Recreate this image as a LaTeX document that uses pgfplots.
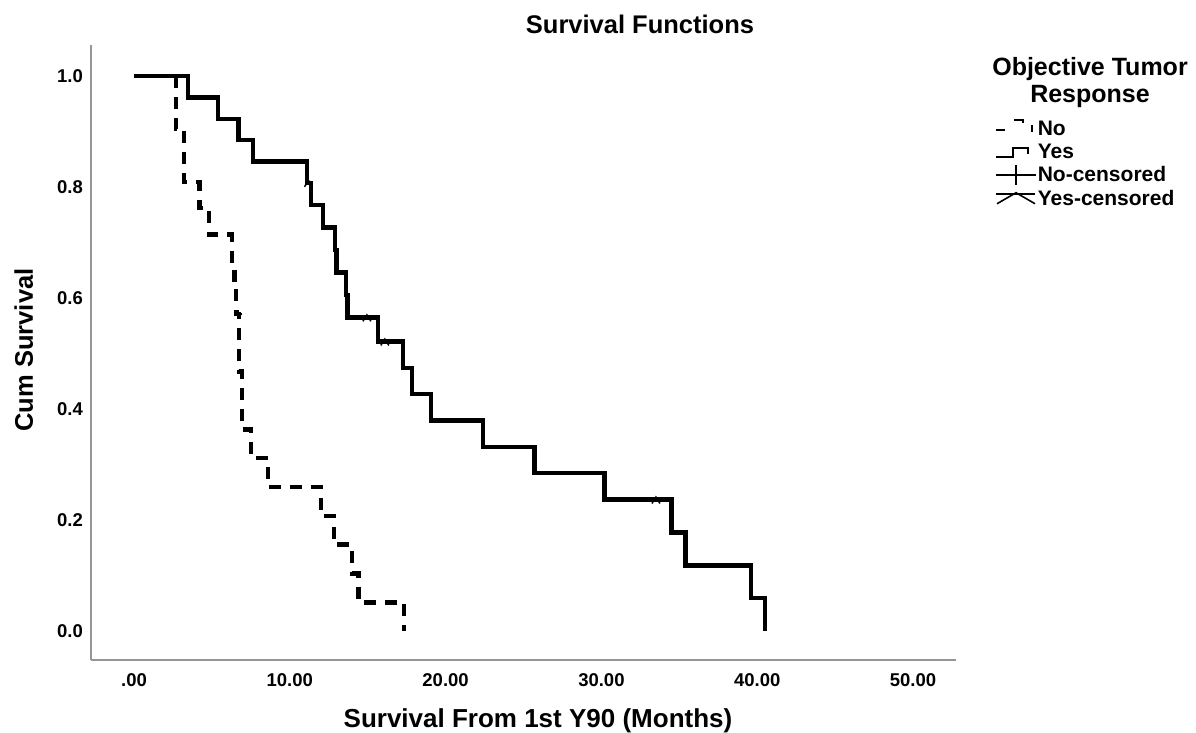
\documentclass[border=0pt]{standalone}
\usepackage{fontspec}
\setmainfont{Liberation Sans}
\usepackage{pgfplots}
\pgfplotsset{compat=1.18}
\pgfdeclareplotmark{ycens}{%
 \pgfpathmoveto{\pgfqpoint{-\pgfplotmarksize}{-\pgfplotmarksize}}%
 \pgfpathlineto{\pgfqpoint{0pt}{0.6\pgfplotmarksize}}%
 \pgfpathlineto{\pgfqpoint{\pgfplotmarksize}{-\pgfplotmarksize}}%
 \pgfusepathqstroke}
\definecolor{axgray}{RGB}{150,150,150}
\begin{document}
\begin{tikzpicture}
\path[use as bounding box] (-91pt,-73pt) rectangle (1105pt,660pt);
\begin{axis}[
 at={(0pt,0pt)}, anchor=south west,
 scale only axis, width=865pt, height=615pt,
 xmin=-2.76, xmax=52.76, ymin=-0.052, ymax=1.056,
 axis x line*=bottom, axis y line*=left,
 axis line style={-, draw=axgray, line width=1.3pt},
 tick style={draw=none},
 xtick={0,10,20,30,40,50},
 xticklabels={.00,10.00,20.00,30.00,40.00,50.00},
 ytick={0,0.2,0.4,0.6,0.8,1.0},
 yticklabels={0.0,0.2,0.4,0.6,0.8,1.0},
 /pgf/number format/assume math mode=true,
 ticklabel style={font=\fontsize{18.5}{22}\selectfont\bfseries, inner sep=0pt},
 xticklabel style={anchor=north, yshift=-13pt},
 yticklabel style={anchor=east, xshift=-8pt},
 legend style={at={(1.0451,0.883)}, anchor=north west, draw=none, fill=none,
   inner sep=0pt, outer sep=0pt, row sep=1pt,
   font=\fontsize{21}{23}\selectfont\bfseries,
   nodes={inner sep=1pt, text height=17.5pt, text depth=2.5pt, anchor=west}},
 legend cell align=left,
 clip=false,
]
\addplot[const plot, draw=black, line width=4.5pt, dash pattern=on 12pt off 9pt,
  legend image code/.code={
   \draw[solid, line width=2pt] (0pt,-2pt) -- (9pt,-2pt);
   \draw[solid, line width=2pt] (18pt,8pt) -- (27pt,8pt) -- (27pt,5pt);
   \draw[solid, line width=1.6pt] (36pt,3pt) -- (36pt,-4pt);}]
 coordinates {
 (0,1) (2.7,0.9048) (3.2,0.8095) (4.2,0.7619) (4.8,0.7143) (6.3,0.6667)
 (6.45,0.6190) (6.55,0.5714) (6.75,0.4675) (6.93,0.3636) (7.5,0.3117)
 (8.6,0.2597) (12.0,0.2078) (12.85,0.1558) (14.0,0.1039) (14.4,0.0519) (17.33,0)
 };
\addplot[const plot, draw=black, line width=4.5pt,
  legend image code/.code={
   \draw[solid, line width=2pt] (0pt,-6pt) -- (17pt,-6pt) -- (17pt,3pt) -- (32pt,3pt) -- (32pt,-3pt);}]
 coordinates {
 (0,1) (3.47,0.9615) (5.4,0.9231) (6.7,0.8846) (7.65,0.8462) (11.1,0.8077)
 (11.36,0.7673) (12.13,0.7269) (12.9,0.6865) (13.0,0.6462) (13.6,0.6058)
 (13.7,0.5654) (15.66,0.5219) (17.26,0.4744) (17.85,0.4270) (19.06,0.3796)
 (22.4,0.3321) (25.7,0.2847) (30.2,0.2372) (34.5,0.1779) (35.4,0.1186)
 (39.6,0.0593) (40.5,0)
 };
\addplot[only marks, mark=+, mark size=4pt, mark options={draw=black, line width=1.5pt},
  legend image code/.code={
   \draw[solid, line width=1.6pt] (0pt,-1pt) -- (40pt,-1pt);
   \draw[solid, line width=1.6pt] (20pt,9pt) -- (20pt,-11pt);}]
 coordinates {(6.68,0.5714)};
\addplot[only marks, mark=ycens, mark size=4pt, mark options={draw=black, line width=1.5pt},
  legend image code/.code={
   \draw[solid, line width=1.6pt] (0pt,4pt) -- (39pt,4pt);
   \draw[solid, line width=1.6pt] (1pt,-6pt) -- (20pt,5pt) -- (39pt,-6pt);}]
 coordinates {(11.2,0.8077) (14.95,0.5654) (16.1,0.5219) (33.5,0.2372)};
\legend{No,Yes,No-censored,Yes-censored}
\end{axis}
\node[anchor=base, font=\fontsize{25.5}{30}\selectfont\bfseries] at (549pt,626pt) {Survival Functions};
\node[anchor=base, font=\fontsize{26}{30}\selectfont\bfseries] at (447pt,-68pt) {Survival From 1st Y90 (Months)};
\node[anchor=base, rotate=90, font=\fontsize{25.5}{30}\selectfont\bfseries] at (-58pt,310pt) {Cum Survival};
\node[anchor=base, font=\fontsize{25}{30}\selectfont\bfseries] at (999pt,584pt) {Objective Tumor};
\node[anchor=base, font=\fontsize{25}{30}\selectfont\bfseries] at (999pt,557pt) {Response};
\end{tikzpicture}
\end{document}
